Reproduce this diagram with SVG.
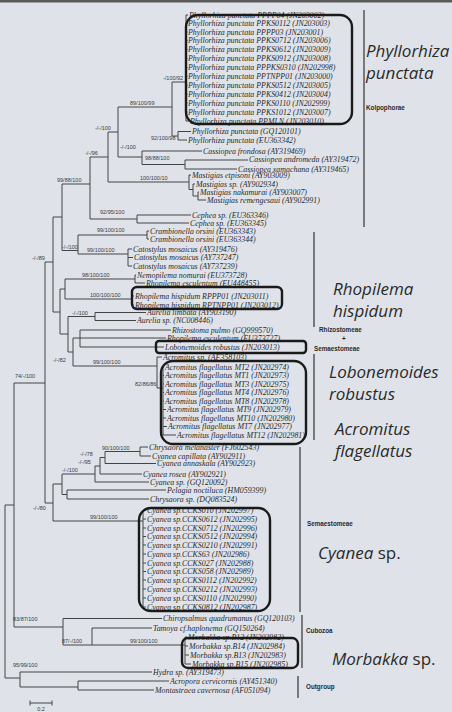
<svg xmlns="http://www.w3.org/2000/svg" width="452" height="712" viewBox="0 0 452 712">
<style>
.t{font-family:"Liberation Serif",serif;font-style:italic;font-size:7.9px;fill:#2a2a2a}
.b{font-family:"Liberation Sans",Arial,sans-serif;font-size:5.5px;fill:#3a3a3a}
.big{font-family:"Open Sans","Noto Sans",sans-serif;font-style:italic;font-size:17px;fill:#2a2a2a}
.up{font-style:normal}
.sm{font-family:"Liberation Sans",Arial,sans-serif;font-weight:bold;font-size:6.3px;fill:#2a2a2a}
.ln{stroke:#444;stroke-width:1;fill:none}
.box{fill:none;stroke:#1a1a1a;stroke-width:2.4}
.bar{stroke:#333;stroke-width:1.2;fill:none}
</style>
<rect x="0" y="0" width="452" height="712" fill="#dfe3e9"/>
<rect x="0" y="0" width="452" height="2.5" fill="#5a5a5a"/>
<g id="connectors" class="ln">
<path d="M5 505V678M5 505H14M14 383V627M14 383H45M45 262V503M45 262H53M53 217V312M53 217H62M62 184V250.5M62 184H90M90 157V219M90 219H137M137 215V223M137 215H191M137 223H189"/>
<path d="M90 157H108M108 132V182M108 132H118M118 107V157M118 107H172M172 82V136M172 82H186M186 15V121M186 15H188M186 23.5H187.5M186 32H187.5M186 40.5H187.5M186 49.5H187.5M186 58.5H187.5M186 67.5H187.5M186 76H187.5M186 85H187.5M186 94H187.5M186 103H187.5M186 112H187.5M186 121H189M172 136H178M178 131.5V140M178 131.5H191M178 140H187"/>
<path d="M118 157H142M142 151V164.5M142 151H202M142 164.5H185M185 160V169M185 160H248M185 169H237M108 182H189M189 175V189.5M189 175H191M189 189.5H193M193 184V196M193 184H195M193 196H198M198 192V200M198 192H199M198 200H206"/>
<path d="M62 250.5H78M78 235V254M78 235H147M147 231V239M147 231H149M147 239H149M78 254H128M128 249V266M128 249H132M128 257.5H133M128 266H132"/>
<path d="M53 312H60M60 289V334M60 289H65M65 279V299M65 279H135M135 275V283M135 275H136M135 283H145M65 299H132M132 296V305M132 296H134M132 305H134M60 334H68M68 316.5V352M68 316.5H95M95 312.5V320.5M95 312.5H146M95 320.5H136M68 352H73M73 338V366M73 338H80M80 330V347M80 330H171M80 338H166M80 347H164M73 366H157M157 357V388M157 357H162M157 388H163M163 367V435M163 367H164M163 375.5H164M163 384H164M163 392.5H164M163 401H164M163 409.5H166M163 418H166M163 426.5H167M163 435H176"/>
<path d="M45 503H53M53 484V521M53 484H62M62 474V494.5M62 474H95M95 466V482M95 482H149M95 466H100M100 457.5V474M100 474H142M100 457.5H105M105 451.5V463.5M105 463.5H156M105 451.5H140M140 447V456M140 447H148M140 456H151M62 494.5H67M67 490V499M67 490H166M67 499H149M53 521H143M143 510.5V607M143 510.5H146M143 519H146M143 528H146M143 536.5H146M143 545H146M143 554H146M143 563H146M143 571.5H146M143 580H146M143 589H146M143 598H146M143 607H146"/>
<path d="M14 627H63M63 618.5V645M63 618.5H162M63 645H185M92 628V645M92 628H152M185 637V664M185 637H187M185 646H188M185 655H189M185 664H191M5 678H20M20 672V687M20 672H152M20 687H78M78 681V690M78 681H169M78 690H154M30 703H52M30 700.5V705.5M52 700.5V705.5"/>
</g>
<g id="leaves" class="t">
<g id="pp1"><text x="189" y="17.6">Phyllorhiza punctata PPPP04 (JN203002)</text></g>
<g id="pp2"><text x="188" y="26.1">Phyllorhiza punctata PPKS0112 (JN203003)</text></g>
<g id="pp3"><text x="188" y="34.6">Phyllorhiza punctata PPPP03 (JN203001)</text></g>
<g id="pp4"><text x="188" y="43.1">Phyllorhiza punctata PPKS0712 (JN203006)</text></g>
<g id="pp5"><text x="188" y="52.1">Phyllorhiza punctata PPKS0612 (JN203009)</text></g>
<g id="pp6"><text x="188" y="61.1">Phyllorhiza punctata PPKS0912 (JN203008)</text></g>
<g id="pp7"><text x="188" y="70.1">Phyllorhiza punctata PPPKS0310 (JN202998)</text></g>
<g id="pp8"><text x="188" y="78.6">Phyllorhiza punctata PPTNPP01 (JN203000)</text></g>
<g id="pp9"><text x="188" y="87.6">Phyllorhiza punctata PPKS0512 (JN203005)</text></g>
<g id="pp10"><text x="188" y="96.6">Phyllorhiza punctata PPKS0412 (JN203004)</text></g>
<g id="pp11"><text x="188" y="105.6">Phyllorhiza punctata PPKS0110 (JN202999)</text></g>
<g id="pp12"><text x="188" y="114.6">Phyllorhiza punctata PPKS1012 (JN203007)</text></g>
<g id="pp13"><text x="190" y="123.6">Phyllorhiza punctata PPMLN (JN203010)</text></g>
<g id="pp14"><text x="192" y="134.1">Phyllorhiza punctata (GQ120101)</text></g>
<g id="pp15"><text x="188" y="142.6">Phyllorhiza punctata (EU363342)</text></g>
<g id="cas1"><text x="203" y="153.6">Cassiopea frondosa (AY319469)</text></g>
<g id="cas2"><text x="249" y="162.4">Cassiopea andromeda (AY319472)</text></g>
<g id="cas3"><text x="238" y="171.6">Cassiopea xamachana (AY319465)</text></g>
<g id="mas1"><text x="192" y="177.8">Mastigias etpisoni (AY903009)</text></g>
<g id="mas2"><text x="196" y="186.6">Mastigias sp. (AY902934)</text></g>
<g id="mas3"><text x="200" y="194.6">Mastigias nakamurai (AY903007)</text></g>
<g id="mas4"><text x="207" y="202.6">Mastigias remengesaui (AY902991)</text></g>
<g id="cep1"><text x="192" y="217.6">Cephea sp. (EU363346)</text></g>
<g id="cep2"><text x="190" y="225.6">Cephea sp. (EU363345)</text></g>
<g id="cra1"><text x="150" y="233.6">Crambionella orsini (EU363343)</text></g>
<g id="cra2"><text x="150" y="241.6">Crambionella orsini (EU363344)</text></g>
<g id="cat1"><text x="133" y="251.6">Catostylus mosaicus (AY319476)</text></g>
<g id="cat2"><text x="134" y="260.1">Catostylus mosaicus (AY737247)</text></g>
<g id="cat3"><text x="133" y="268.6">Catostylus mosaicus (AY737239)</text></g>
<g id="nem"><text x="137" y="277.6">Nemopilema nomurai (EU373728)</text></g>
<g id="res1"><text x="146" y="285.6">Rhopilema esculentum (EU448455)</text></g>
<g id="rhi1"><text x="135" y="298.6">Rhopilema hispidum RPPP01 (JN203011)</text></g>
<g id="rhi2"><text x="135" y="307.6">Rhopilema hispidum RPTNPP01 (JN203012)</text></g>
<g id="aur1"><text x="147" y="315.1">Aurelia limbata (AY903190)</text></g>
<g id="aur2"><text x="137" y="323.1">Aurelia sp. (NC008446)</text></g>
<g id="rpu"><text x="172" y="332.6">Rhizostoma pulmo (GQ999570)</text></g>
<g id="res2"><text x="167" y="340.6">Rhopilema esculentum (EU373727)</text></g>
<g id="lob"><text x="165" y="349.6">Lobonemoides robustus (JN203013)</text></g>
<g id="acsp"><text x="163" y="359.6">Acromitus sp. (AF358103)</text></g>
<g id="mt2"><text x="165" y="369.6">Acromitus flagellatus MT2 (JN202974)</text></g>
<g id="mt1"><text x="165" y="378.1">Acromitus flagellatus MT1 (JN202973)</text></g>
<g id="mt3"><text x="165" y="386.6">Acromitus flagellatus MT3 (JN202975)</text></g>
<g id="mt4"><text x="165" y="395.1">Acromitus flagellatus MT4 (JN202976)</text></g>
<g id="mt8"><text x="165" y="403.6">Acromitus flagellatus MT8 (JN202978)</text></g>
<g id="mt9"><text x="167" y="412.1">Acromitus flagellatus MT9 (JN202979)</text></g>
<g id="mt10"><text x="167" y="420.6">Acromitus flagellatus MT10 (JN202980)</text></g>
<g id="mt7"><text x="168" y="429.1">Acromitus flagellatus MT7 (JN202977)</text></g>
<g id="mt12"><text x="177" y="437.6">Acromitus flagellatus MT12 (JN202981)</text></g>
<g id="chm"><text x="149" y="449.6">Chrysaora melanaster (FJ602543)</text></g>
<g id="cca"><text x="152" y="458.6">Cyanea capillata (AY902911)</text></g>
<g id="cann"><text x="157" y="466.1">Cyanea annaskala (AY902923)</text></g>
<g id="cro"><text x="143" y="476.6">Cyanea rosea (AY902921)</text></g>
<g id="cgq"><text x="150" y="484.6">Cyanea sp. (GQ120092)</text></g>
<g id="pel"><text x="167" y="492.6">Pelagia noctiluca (HM059399)</text></g>
<g id="chs"><text x="150" y="501.6">Chrysaora sp. (DQ083524)</text></g>
<g id="cy1"><text x="147" y="513.1">Cyanea sp.CCKS010 (JN202997)</text></g>
<g id="cy2"><text x="147" y="521.6">Cyanea sp.CCKS0612 (JN202995)</text></g>
<g id="cy3"><text x="147" y="530.6">Cyanea sp.CCKS0712 (JN202996)</text></g>
<g id="cy4"><text x="147" y="539.1">Cyanea sp.CCKS0512 (JN202994)</text></g>
<g id="cy5"><text x="147" y="547.6">Cyanea sp.CCKS0210 (JN202991)</text></g>
<g id="cy6"><text x="147" y="556.6">Cyanea sp.CCKS63 (JN202986)</text></g>
<g id="cy7"><text x="147" y="565.6">Cyanea sp.CCKS027 (JN202988)</text></g>
<g id="cy8"><text x="147" y="574.1">Cyanea sp.CCKS058 (JN202989)</text></g>
<g id="cy9"><text x="147" y="582.6">Cyanea sp.CCKS0112 (JN202992)</text></g>
<g id="cy10"><text x="147" y="591.6">Cyanea sp.CCKS0212 (JN202993)</text></g>
<g id="cy11"><text x="147" y="600.6">Cyanea sp.CCKS0110 (JN202990)</text></g>
<g id="cy12"><text x="147" y="609.6">Cyanea sp.CCKS0812 (JN202987)</text></g>
<g id="chq"><text x="163" y="621.1">Chiropsalmus quadrumanus (GQ120103)</text></g>
<g id="tam"><text x="153" y="630.6">Tamoya cf.haplonema (GQ150264)</text></g>
<g id="mo1"><text x="188" y="639.6">Morbakka sp.B12 (JN202982)</text></g>
<g id="mo2"><text x="189" y="648.6">Morbakka sp.B14 (JN202984)</text></g>
<g id="mo3"><text x="190" y="657.6">Morbakka sp.B13 (JN202983)</text></g>
<g id="mo4"><text x="192" y="666.6">Morbakka sp.B15 (JN202985)</text></g>
<g id="hyd"><text x="153" y="674.6">Hydra sp. (AY319473)</text></g>
<g id="acr"><text x="170" y="683.6">Acropora cervicornis (AY451340)</text></g>
<g id="mon"><text x="155" y="692.6">Montastraea cavernosa (AF051094)</text></g>
</g>
<g id="support" class="b">
<text x="163" y="80">-/100/92</text>
<text x="130" y="105">89/100/99</text>
<text x="151" y="140">92/100/98</text>
<text x="95" y="129.5">-/-/100</text>
<text x="120" y="149">-/-/100</text>
<text x="85" y="155">-/-/96</text>
<text x="145" y="160">98/88/100</text>
<text x="140" y="180">100/100/10</text>
<text x="100" y="214">92/95/100</text>
<text x="57" y="182">99/88/100</text>
<text x="97" y="232">99/100/100</text>
<text x="62" y="248.5">-/-/100</text>
<text x="87" y="252">99/100/100</text>
<text x="32" y="260">-/-/89</text>
<text x="82" y="277">98/100/100</text>
<text x="90" y="297">100/100/100</text>
<text x="72" y="314.5">-/-/100</text>
<text x="53" y="362">-/-/82</text>
<text x="93" y="364">99/100/100</text>
<text x="135" y="386">82/86/86</text>
<text x="15" y="378">74/-/100</text>
<text x="102" y="449.5">90/100/100</text>
<text x="80" y="456">-/-/78</text>
<text x="78" y="463.5">-/-/95</text>
<text x="62" y="471.5">-/-/100</text>
<text x="33" y="510">-/-/80</text>
<text x="90" y="519">99/100/100</text>
<text x="13" y="621">83/87/100</text>
<text x="62" y="643">87/-/100</text>
<text x="130" y="643">99/100/100</text>
<text x="13" y="667">95/99/100</text>
<text x="41" y="711" text-anchor="middle">0.2</text>
</g>
<g id="boxes" class="box">
<rect x="186" y="15" width="166" height="109" rx="12"/>
<rect x="132" y="287" width="150" height="22" rx="5"/>
<rect x="156" y="341" width="150" height="12" rx="3"/>
<rect x="161" y="361" width="145" height="83" rx="12"/>
<rect x="139" y="508" width="131" height="103" rx="12"/>
<rect x="182" y="638" width="116" height="30" rx="6"/>
</g>
<g id="clade-bars" class="bar">
<path d="M364 10V227M314 232V327M314 354V440M300 447V612M302 615V668M298 676V698"/>
</g>
<g id="clade-labels">
<text class="big" x="366" y="57">Phyllorhiza</text>
<text class="big" x="366" y="79">punctata</text>
<text class="sm" x="366" y="110">Kolpophorae</text>
<text class="big" x="333" y="295">Rhopilema</text>
<text class="big" x="333" y="317">hispidum</text>
<text class="sm" x="319" y="332">Rhizostomeae</text>
<text class="sm" x="342" y="341">+</text>
<text class="sm" x="314" y="351">Semaestomeae</text>
<text class="big" x="329" y="378">Lobonemoides</text>
<text class="big" x="329" y="400">robustus</text>
<text class="big" x="335" y="435">Acromitus</text>
<text class="big" x="335" y="457">flagellatus</text>
<text class="sm" x="307" y="526">Semaestomeae</text>
<text class="big" x="318" y="559">Cyanea<tspan class="up"> sp.</tspan></text>
<text class="sm" x="306" y="633">Cubozoa</text>
<text class="big" x="332" y="665">Morbakka<tspan class="up"> sp.</tspan></text>
<text class="sm" x="306" y="689">Outgroup</text>
</g>
</svg>
